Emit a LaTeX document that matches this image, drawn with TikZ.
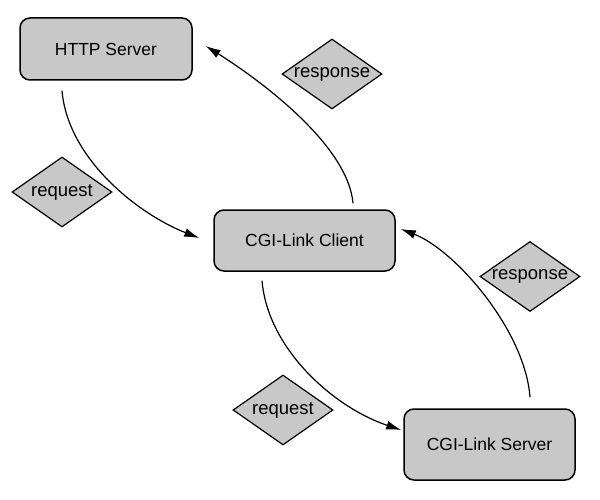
\documentclass[tikz,border=0pt]{standalone}
\usepackage{fontspec}
\setmainfont{Liberation Sans}
\usepackage{xcolor}
\usepackage{tikz}
\usetikzlibrary{shapes,arrows,arrows.meta,positioning,calc}

\definecolor{boxgray}{RGB}{200,200,200}

\begin{document}
\begin{tikzpicture}[x=1pt,y=-1pt,
  box/.style={draw,line width=1.5pt,fill=boxgray,rounded corners=10pt,font=\fontsize{17.5}{20}\selectfont},
  msg/.style={draw,line width=1.2pt,fill=boxgray,diamond,shape aspect=1.43,inner sep=0pt,minimum width=100pt,minimum height=70pt,font=\fontsize{18.5}{20}\selectfont},
  flow/.style={line width=1.2pt,-{Latex[length=15pt,width=9pt]}}]
\useasboundingbox (0,0) rectangle (600,500);

% Hosts
\node[box,minimum width=172pt,minimum height=62pt] (http) at (106,49) {HTTP Server};
\node[box,minimum width=181pt,minimum height=61pt] (client) at (304.5,240.5) {CGI-Link Client};
\node[box,minimum width=171pt,minimum height=71pt] (server) at (489.5,444.5) {CGI-Link Server};

% Messages
\node[msg] (req1) at (62,192) {request};
\node[msg] (resp1) at (332,74) {response};
\node[msg] (req2) at (283,410) {request};
\node[msg] (resp2) at (530,276.5) {response};

% Request / response flow
\draw[flow] ([xshift=-44pt,yshift=-10pt]http.south) .. controls (68,160) and (140,215) .. ([xshift=-14pt,yshift=2.5pt]client.west);
\draw[flow] ([xshift=48.5pt,yshift=6pt]client.north) .. controls (348,145) and (260,80) .. ([xshift=13pt,yshift=3pt]http.east);
\draw[flow] ([xshift=-42.5pt,yshift=-9pt]client.south) .. controls (268,350) and (335,408) .. ([xshift=-2pt,yshift=14.5pt]server.west);
\draw[flow] ([xshift=40.5pt,yshift=11pt]server.north) .. controls (525,330) and (455,250) .. ([xshift=5pt,yshift=11.5pt]client.east);
\end{tikzpicture}
\end{document}
